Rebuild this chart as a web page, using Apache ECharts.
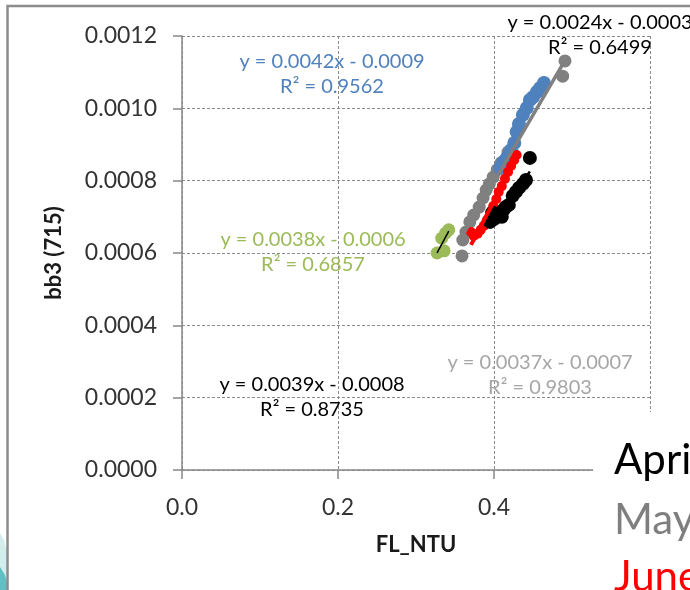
<!DOCTYPE html>
<html>
<head>
<meta charset="utf-8">
<script src="https://cdn.jsdelivr.net/npm/echarts@6/dist/echarts.min.js"></script>
<style>
  html, body { margin: 0; padding: 0; background: #fff; }
  #chart { width: 690px; height: 590px; }
</style>
</head>
<body>
<div id="chart"></div>
<script>
// Axis ticks
const xTicks = [0, 0.2, 0.4, 0.6];
const yTicks = [0, 0.0002, 0.0004, 0.0006, 0.0008, 0.0010, 0.0012];

// April (black)
const aprilFL = [0.395, 0.400, 0.404, 0.408, 0.412, 0.415, 0.419, 0.424, 0.428, 0.432, 0.437, 0.441, 0.446, 0.398, 0.410];
const aprilBB = [0.000686, 0.000694, 0.000700, 0.000711, 0.000719, 0.000727, 0.000733, 0.000758, 0.000769, 0.000780, 0.000791, 0.000802, 0.000863, 0.000712, 0.000700];

// May (grey)
const mayFL = [0.359, 0.360, 0.364, 0.369, 0.374, 0.381, 0.386, 0.390, 0.394, 0.399, 0.404, 0.409, 0.418, 0.488, 0.491];
const mayBB = [0.000592, 0.000636, 0.000658, 0.000686, 0.000705, 0.000727, 0.000752, 0.000774, 0.000791, 0.000810, 0.000830, 0.000849, 0.000879, 0.001089, 0.001131];

// June (red)
const juneFL = [0.3705, 0.374, 0.379, 0.383, 0.387, 0.391, 0.395, 0.399, 0.403, 0.406, 0.410, 0.414, 0.418, 0.422, 0.426, 0.429];
const juneBB = [0.000658, 0.000647, 0.000653, 0.000664, 0.000675, 0.000691, 0.000711, 0.000730, 0.000749, 0.000769, 0.000785, 0.000805, 0.000824, 0.000841, 0.000857, 0.000871];

// Blue set
const blueFL = [0.408, 0.412, 0.417, 0.422, 0.426, 0.429, 0.432, 0.437, 0.442, 0.446, 0.450, 0.455, 0.459, 0.464];
const blueBB = [0.000835, 0.000852, 0.000865, 0.000885, 0.000904, 0.000935, 0.000957, 0.000982, 0.001001, 0.001023, 0.001031, 0.001045, 0.001056, 0.001070];

// Green set
const greenFL = [0.327, 0.336, 0.333, 0.338, 0.342];
const greenBB = [0.000600, 0.000606, 0.000641, 0.000655, 0.000664];

// Trendline equation labels
const eqBlue  = ['y = 0.0042x - 0.0009', 'R² = 0.9562'];
const eqGreen = ['y = 0.0038x - 0.0006', 'R² = 0.6857'];
const eqJune  = ['y = 0.0039x - 0.0008', 'R² = 0.8735'];
const eqMay   = ['y = 0.0037x - 0.0007', 'R² = 0.9803'];
const eqApril = ['y = 0.0024x - 0.0003', 'R² = 0.6499'];

const monthNames = ['April', 'May', 'June'];

const FONT = 'Lato';

function pairs(xs, ys) { return xs.map((x, i) => [x, ys[i]]); }

// Least-squares linear fit, returned as a segment over the data's x range
function trend(xs, ys) {
  const n = xs.length;
  const mx = xs.reduce((a, b) => a + b, 0) / n;
  const my = ys.reduce((a, b) => a + b, 0) / n;
  let sxy = 0, sxx = 0;
  for (let i = 0; i < n; i++) { sxy += (xs[i] - mx) * (ys[i] - my); sxx += (xs[i] - mx) ** 2; }
  const a = sxy / sxx, b = my - a * mx;
  const x0 = Math.min(...xs), x1 = Math.max(...xs);
  return [[x0, a * x0 + b], [x1, a * x1 + b]];
}

function scatter(name, xs, ys, color, size, z) {
  return { name, type: 'scatter', data: pairs(xs, ys), symbolSize: size, z,
           itemStyle: { color, opacity: 1 }, emphasis: { disabled: true } };
}
function trendLine(xs, ys, color, width, z) {
  return { type: 'line', data: trend(xs, ys), showSymbol: false, symbol: 'none', z,
           lineStyle: { color, width }, silent: true };
}

const chart = echarts.init(document.getElementById('chart'));

function eqText(lines, cx, cy, color) {
  return {
    type: 'text', x: cx, y: cy, z: 50,
    style: { text: lines.join('\n'), fill: color, font: '20px ' + FONT, align: 'center',
             verticalAlign: 'middle', lineHeight: 25 }
  };
}
function monthText(label, y, color) {
  return { type: 'text', z: 71, x: 614, y,
           style: { text: label, fill: color, font: '42px ' + FONT, verticalAlign: 'top' } };
}

chart.setOption({
  animation: false,
  backgroundColor: '#ffffff',
  grid: { left: 182, right: 40, top: 36, bottom: 120 },
  xAxis: {
    type: 'value', min: 0, max: 0.6, interval: 0.2,
    name: 'FL_NTU', nameLocation: 'middle', nameGap: 64,
    nameTextStyle: { fontFamily: FONT, fontSize: 22, fontWeight: 'bold', color: '#1a1a1a' },
    axisLine: { show: true, onZero: false, lineStyle: { color: '#888888', width: 1.5 } },
    axisTick: { show: true, length: 9, lineStyle: { color: '#888888', width: 1.5 } },
    axisLabel: { margin: 26, fontFamily: FONT, fontSize: 23, color: '#333333',
                 formatter: v => xTicks.includes(+v.toFixed(1)) ? v.toFixed(1) : '' },
    splitLine: { show: true, lineStyle: { color: '#8a8a8a', type: [3, 2], width: 1 } }
  },
  yAxis: {
    type: 'value', min: 0, max: 0.0012, interval: 0.0002,
    name: 'bb3 (715)', nameLocation: 'middle', nameGap: 117,
    nameTextStyle: { fontFamily: FONT, fontSize: 22, fontWeight: 'bold', color: '#1a1a1a' },
    axisLine: { show: true, onZero: false, lineStyle: { color: '#888888', width: 1.5 } },
    axisTick: { show: true, length: 9, lineStyle: { color: '#888888', width: 1.5 } },
    axisLabel: { margin: 25, fontFamily: FONT, fontSize: 23, color: '#333333',
                 formatter: v => v.toFixed(4) },
    splitLine: { show: true, lineStyle: { color: '#8a8a8a', type: [3, 2], width: 1 } }
  },
  series: [
    scatter('May', mayFL, mayBB, '#808080', 13, 2),
    scatter('Blue', blueFL, blueBB, '#4f81bd', 14, 3),
    scatter('Green', greenFL, greenBB, '#9bbb59', 13, 3),
    scatter('June', juneFL, juneBB, '#ff0000', 10, 4),
    scatter('April', aprilFL, aprilBB, '#000000', 14, 5),
    trendLine(blueFL, blueBB, '#4f81bd', 2, 10),
    trendLine(mayFL, mayBB, '#808080', 3.5, 11),
    trendLine(greenFL, greenBB, '#000000', 1.5, 11),
    trendLine(juneFL, juneBB, '#ff0000', 4, 12),
    trendLine(aprilFL, aprilBB, '#000000', 2.5, 12)
  ],
  graphic: [
    // slide decoration in the lower-left corner
    { type: 'polygon', z: 1, shape: { points: [[0, 533], [4, 540], [7, 552], [7, 590], [0, 590]] },
      style: { fill: '#d3ecec' } },
    { type: 'polygon', z: 2, shape: { points: [[0, 567], [5, 575], [7, 583], [7, 590], [0, 590]] },
      style: { fill: '#62c0c4' } },
    // chart frame edge
    { type: 'polyline', z: 60, shape: { points: [[7.5, 590], [7.5, 6], [690, 6]] },
      style: { stroke: '#8c8c8c', lineWidth: 2.5, fill: null } },
    eqText(eqBlue, 332, 74, '#4f81bd'),
    eqText(eqGreen, 313, 252, '#9bbb59'),
    eqText(eqJune, 312, 397, '#000000'),
    eqText(eqMay, 540, 375, '#a6a6a6'),
    eqText(eqApril, 600, 35, '#000000'),
    // month key panel
    { type: 'rect', z: 70, shape: { x: 593, y: 412, width: 100, height: 180 }, style: { fill: '#ffffff' } },
    monthText(monthNames[0], 439, '#000000'),
    monthText(monthNames[1], 499, '#7f7f7f'),
    monthText(monthNames[2], 556, '#ff0000')
  ]
});
</script>
</body>
</html>
